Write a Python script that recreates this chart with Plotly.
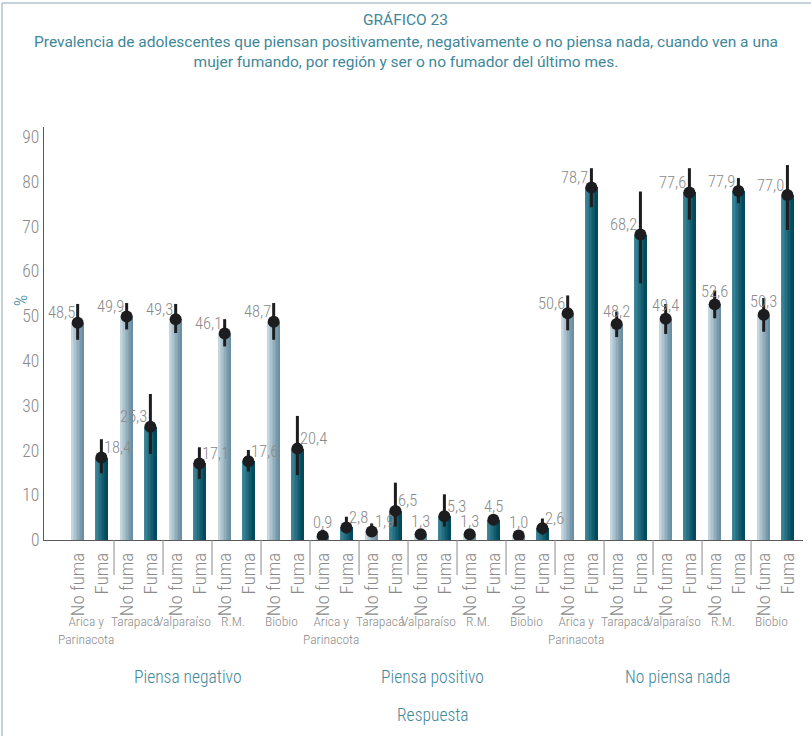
import plotly.graph_objects as go

# ---- data ----
respuestas = ["Piensa negativo", "Piensa positivo", "No piensa nada"]
regiones = ["Arica y<br>Parinacota", "Tarapacá", "Valparaíso", "R.M.", "Biobio"]
estados = ["No fuma", "Fuma"]

# prevalence (%) ordered respuesta -> region -> [No fuma, Fuma]
no_fuma = [48.5, 49.9, 49.3, 46.1, 48.7,
           0.9, 1.9, 1.3, 1.3, 1.0,
           50.6, 48.2, 49.4, 52.6, 50.3]
fuma = [18.4, 25.3, 17.1, 17.6, 20.4,
        2.8, 6.5, 5.3, 4.5, 2.6,
        78.7, 68.2, 77.6, 77.9, 77.0]

# confidence interval bounds
no_fuma_hi = [52.7, 52.9, 52.7, 49.3, 52.9,
              2.3, 3.7, 2.2, 2.2, 2.0,
              54.6, 51.0, 52.7, 55.7, 54.0]
no_fuma_lo = [44.7, 47.0, 46.2, 43.2, 44.7,
              0.3, 0.7, 0.5, 0.6, 0.4,
              46.8, 45.3, 46.0, 49.5, 46.5]
fuma_hi = [22.5, 32.6, 20.7, 20.1, 27.7,
           5.2, 12.8, 10.2, 5.6, 4.8,
           83.0, 77.8, 83.0, 80.8, 83.7]
fuma_lo = [14.9, 19.2, 13.6, 15.3, 14.5,
           1.5, 3.0, 3.0, 3.5, 1.2,
           74.3, 57.3, 71.5, 75.2, 69.2]

titulo = "GRÁFICO 23"
subtitulo = ("Prevalencia de adolescentes que piensan positivamente, negativamente o no piensa nada, cuando ven a una"
             "<br>mujer fumando, por región y ser o no fumador del último mes.")

# where each value label sits relative to its bar (L / R / C)
lado_no_fuma = ["L", "L", "L", "L", "L", "C", "R", "C", "C", "C", "L", "C", "C", "C", "C"]
lado_fuma = ["R", "L", "R", "R", "R", "R", "R", "R", "C", "R", "L", "L", "L", "L", "L"]

# ---- layout constants ----
W, H = 811, 736
ML, MR, MT, MB = 44, 8, 127, 196
FONT = "Roboto Condensed, Roboto, sans-serif"
TFONT = "Roboto, sans-serif"
GRAY = "#8a8a8a"
TEAL = "#3f8799"
BAR_W = 0.245
HALF = 0.242
N_STRIPS = 8

n_groups = len(respuestas) * len(regiones)
centers = list(range(n_groups))
x_nf = [c - HALF for c in centers]
x_f = [c + HALF for c in centers]
pw, ph = W - ML - MR, H - MT - MB


def mix(c1, c2, t):
    a = [int(c1[i:i + 2], 16) for i in (1, 3, 5)]
    b = [int(c2[i:i + 2], 16) for i in (1, 3, 5)]
    return "#" + "".join(f"{round(a[k] + (b[k] - a[k]) * t):02x}" for k in range(3))


def fnt(size, color=GRAY, family=FONT, weight=300):
    return dict(family=family, size=size, color=color, weight=weight)


fig = go.Figure()

# gradient bars built from narrow strips
grads = [(x_nf, no_fuma, "#c6d6df", "#6a8fa2"), (x_f, fuma, "#40889a", "#004a5d")]
for xs, ys, c_left, c_right in grads:
    step = BAR_W / N_STRIPS
    for s in range(N_STRIPS):
        fig.add_trace(go.Bar(
            x=xs, y=ys, width=step * 1.25, offset=-BAR_W / 2 + s * step,
            marker=dict(color=mix(c_left, c_right, s / (N_STRIPS - 1)), line=dict(width=0)),
            showlegend=False, hoverinfo="skip"))

# points with confidence intervals
for xs, ys, hi, lo in [(x_nf, no_fuma, no_fuma_hi, no_fuma_lo), (x_f, fuma, fuma_hi, fuma_lo)]:
    fig.add_trace(go.Scatter(
        x=xs, y=ys, mode="markers",
        marker=dict(size=12, color="#1d1d1f"),
        error_y=dict(type="data", symmetric=False,
                     array=[h - v for h, v in zip(hi, ys)],
                     arrayminus=[v - l for l, v in zip(lo, ys)],
                     color="#1d1d1f", thickness=3, width=0),
        showlegend=False, hoverinfo="skip"))

annotations = []
# value labels
for xs, ys, lados in [(x_nf, no_fuma, lado_no_fuma), (x_f, fuma, lado_fuma)]:
    for x, v, lado in zip(xs, ys, lados):
        anchor = {"L": "right", "R": "left", "C": "center"}[lado]
        dx = {"L": -1, "R": 1, "C": 0}[lado]
        dy = 13 if lado == "C" else 10
        annotations.append(dict(
            x=x, y=v, xref="x", yref="y", text=f"{v:.1f}".replace(".", ","),
            showarrow=False, xanchor=anchor, yanchor="middle", xshift=dx, yshift=dy,
            font=fnt(16.5)))

# region labels under each pair
for g in centers:
    annotations.append(dict(
        x=g, y=0, xref="x", yref="paper", text=regiones[g % len(regiones)], borderpad=0,
        showarrow=False, xanchor="center", yanchor="top", xshift=-4, yshift=-72,
        font=fnt(13.5)))

# response labels
for i, r in enumerate(respuestas):
    mid = i * len(regiones) + (len(regiones) - 1) / 2
    annotations.append(dict(
        x=mid, y=0, xref="x", yref="paper", text=r, showarrow=False,
        xanchor="center", yanchor="middle", yshift=-137,
        font=fnt(17.5, TEAL)))

annotations.append(dict(
    x=(n_groups - 1) / 2, y=0, xref="x", yref="paper", text="Respuesta", showarrow=False,
    xanchor="center", yanchor="middle", yshift=-175,
    font=fnt(17.5, TEAL)))

annotations.append(dict(
    x=0, y=53.5, xref="paper", yref="y", text="%", showarrow=False, textangle=-90,
    xanchor="center", yanchor="middle", xshift=-24,
    font=fnt(18, TEAL)))

# title, centred on the page
xc = (W / 2 - ML) / pw
annotations.append(dict(
    x=xc, y=1, xref="paper", yref="paper", showarrow=False, xanchor="center",
    yanchor="middle", yshift=MT - 20, text=titulo, font=fnt(15.5, TEAL, TFONT, 400)))
annotations.append(dict(
    x=xc, y=1, xref="paper", yref="paper", showarrow=False, xanchor="center", align="center",
    yanchor="middle", yshift=MT - 52, text=subtitulo, borderpad=0,
    font=fnt(15.5, TEAL, TFONT, 400)))

# separators between region pairs
shapes = []
for g in centers[1:]:
    shapes.append(dict(type="line", xref="x", yref="paper", x0=g - 0.5, x1=g - 0.5,
                       y0=0, y1=-35 / ph, line=dict(color="#8a8a8a", width=1)))

# frame around the figure
fx0 = (2 - ML) / pw
fy1 = (H - MB - 3) / ph
shapes.append(dict(type="line", xref="paper", yref="paper", x0=fx0, x1=fx0, y0=-MB / ph, y1=fy1,
                   line=dict(color="#adc3cf", width=1.5)))
shapes.append(dict(type="line", xref="paper", yref="paper", x0=fx0, x1=(W - ML) / pw, y0=fy1, y1=fy1,
                   line=dict(color="#adc3cf", width=1.5)))

tickvals, ticktext = [], []
for a, b in zip(x_nf, x_f):
    tickvals += [a, b]
    ticktext += estados

fig.update_layout(
    width=W, height=H, margin=dict(l=ML, r=MR, t=MT, b=MB),
    barmode="overlay", bargap=0,
    plot_bgcolor="white", paper_bgcolor="white",
    font=dict(family=FONT, color=GRAY),
    annotations=annotations, shapes=shapes,
    xaxis=dict(range=[-0.929, n_groups - 0.44], tickvals=tickvals, ticktext=ticktext,
               tickangle=-90, tickfont=fnt(19), ticklabelstandoff=4,
               showgrid=False, zeroline=False, showline=True, linecolor="#5a5a5a", linewidth=1.2,
               ticks="", fixedrange=True),
    yaxis=dict(range=[0, 92.2], tickvals=list(range(0, 91, 10)),
               tickfont=fnt(17.5),
               showgrid=False, zeroline=False, showline=True, linecolor="#5a5a5a", linewidth=1.2,
               ticks="", fixedrange=True),
)

fig.write_html("out.html", config={"displayModeBar": False},
               post_script="document.body.style.margin='0px';")
